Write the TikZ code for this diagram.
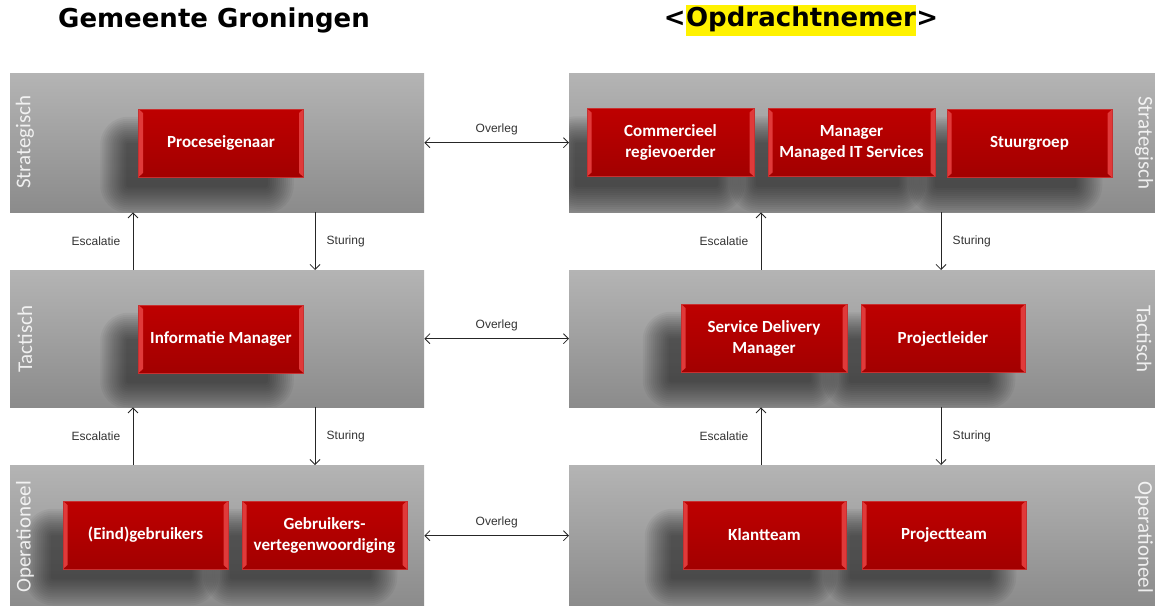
\documentclass[tikz,border=0pt]{standalone}
\usepackage{fontspec}
\setmainfont{Carlito}
\newfontfamily\arialf{Liberation Sans}
\newfontfamily\titlef{DejaVu Sans}
\usetikzlibrary{arrows.meta}
\pgfdeclarelayer{bg}
\pgfdeclarelayer{shad}
\pgfsetlayers{bg,shad,main}
\definecolor{ptop}{HTML}{B4B4B4}
\definecolor{pbot}{HTML}{8B8B8B}
\definecolor{btop}{HTML}{BE0000}
\definecolor{bbot}{HTML}{A20000}
\definecolor{bevel}{HTML}{E03A3A}
\definecolor{bedge}{HTML}{C83030}
\definecolor{lbl}{HTML}{333333}
\newcommand{\softshadow}[1]{%
  \foreach \e in {14,12,...,-12}{%
    \pgfmathsetmacro{\rr}{max(\e+14,1)}%
    \fill[black, opacity=0.042, rounded corners=\rr pt]
      ([shift={(-24pt-\e pt,-22pt+\e pt)}]#1.north west) rectangle
      ([shift={(-24pt+\e pt,-22pt-\e pt)}]#1.south east);
  }}
\begin{document}
\begin{tikzpicture}[x=1pt,y=-1pt,
  panel/.style={anchor=north west, inner sep=0pt, top color=ptop, bottom color=pbot, draw=none},
  redbox/.style={minimum width=165pt, minimum height=68pt, inner sep=2pt, top color=btop, bottom color=bbot,
    draw=bedge, line width=0.5pt, text=white, align=center,
    font=\bfseries\fontsize{17}{21}\selectfont,
    path picture={
      \fill[bevel] (path picture bounding box.north west) -- ++(4.5pt,-4pt) -- ([shift={(4.5pt,4pt)}]path picture bounding box.south west) -- (path picture bounding box.south west) -- cycle;
      \fill[bevel] (path picture bounding box.north east) -- ++(-4.5pt,-4pt) -- ([shift={(-4.5pt,4pt)}]path picture bounding box.south east) -- (path picture bounding box.south east) -- cycle;
    }},
  side/.style={text=white, text opacity=0.85, font=\fontsize{21}{24}\selectfont},
  lab/.style={text=lbl, font=\arialf\fontsize{12}{14}\selectfont},
  arr/.style={-{Straight Barb[length=5pt,width=10pt]}, line width=0.8pt, draw=black!85},
  dbl/.style={{Straight Barb[length=5pt,width=10pt]}-{Straight Barb[length=5pt,width=10pt]}, line width=0.8pt, draw=black!85},
  title/.style={font=\titlef\bfseries\fontsize{26}{30}\selectfont, text=black}
]
\useasboundingbox (0,0) rectangle (1155,605);
\begin{pgfonlayer}{bg}
\fill[white] (0,0) rectangle (1155,605);
% panels
\node[panel, minimum width=414pt, minimum height=139pt] (ls) at (10,73) {};
\node[panel, minimum width=414pt, minimum height=137pt] (lt) at (10,270) {};
\node[panel, minimum width=414pt, minimum height=141pt] (lo) at (10,465) {};
\node[panel, minimum width=586pt, minimum height=139pt] (rs) at (569,73) {};
\node[panel, minimum width=586pt, minimum height=137pt] (rt) at (569,270) {};
\node[panel, minimum width=586pt, minimum height=141pt] (ro) at (569,465) {};
\end{pgfonlayer}

% titles
\node[title] (t1) at (214,20) {Gemeente Groningen};
\node[title] (t2) at (801,20) {<{\setlength\fboxsep{0.5pt}\colorbox{yellow}{\strut Opdrachtnemer}}>};

% side labels
\node[side, rotate=90] (sl1) at (25,142) {Strategisch};
\node[side, rotate=90] (sl2) at (25,339) {Tactisch};
\node[side, rotate=90] (sl3) at (25,537) {Operationeel};
\node[side, rotate=-90] (sr1) at (1144,143) {Strategisch};
\node[side, rotate=-90] (sr2) at (1144,339) {Tactisch};
\node[side, rotate=-90] (sr3) at (1144,537) {Operationeel};

% boxes
\node[redbox] (pe) at (221,143) {Proceseigenaar};
\node[redbox] (im) at (221,339) {Informatie Manager};
\node[redbox] (eg) at (145.5,535) {(Eind)gebruikers};
\node[redbox] (gv) at (324.5,535) {Gebruikers-\\vertegenwoordiging};
\node[redbox, minimum width=167pt] (cr) at (670.5,142.5) {Commercieel\\regievoerder};
\node[redbox, minimum width=167pt] (mm) at (851.5,142.5) {Manager\\Managed IT Services};
\node[redbox] (sg) at (1029.5,143.5) {Stuurgroep};
\node[redbox, minimum width=166pt] (sdm) at (764,338) {Service Delivery\\Manager};
\node[redbox, minimum width=164pt] (pl) at (943,338.5) {Projectleider};
\node[redbox, minimum width=163pt] (kt) at (764.5,535) {Klantteam};
\node[redbox, minimum width=164pt] (pt) at (944,535) {Projectteam};

\begin{pgfonlayer}{shad}
\begin{scope}
\clip (ls.north west) rectangle (ls.south east) (lt.north west) rectangle (lt.south east)
      (lo.north west) rectangle (lo.south east) (rs.north west) rectangle (rs.south east)
      (rt.north west) rectangle (rt.south east) (ro.north west) rectangle (ro.south east);
\softshadow{pe}\softshadow{im}\softshadow{eg}\softshadow{gv}
\softshadow{cr}\softshadow{mm}\softshadow{sg}\softshadow{sdm}\softshadow{pl}
\softshadow{kt}\softshadow{pt}
\end{scope}
\end{pgfonlayer}

% overleg
\draw[dbl] (ls.east) -- (rs.west) node[lab, midway, above=4pt] (o1) {Overleg};
\draw[dbl] (lt.east) -- (rt.west) node[lab, midway, above=4pt] (o2) {Overleg};
\draw[dbl] (lo.east) -- (ro.west) node[lab, midway, above=4pt] (o3) {Overleg};

% vertical arrows left
\draw[arr] ([xshift=123pt]lt.north west) -- ([xshift=123pt]ls.south west) node[lab, midway, left=9pt] (e1) {Escalatie};
\draw[arr] ([xshift=305pt]ls.south west) -- ([xshift=305pt]lt.north west) node[lab, midway, right=8pt] (s1) {Sturing};
\draw[arr] ([xshift=123pt]lo.north west) -- ([xshift=123pt]lt.south west) node[lab, midway, left=9pt] (e2) {Escalatie};
\draw[arr] ([xshift=305pt]lt.south west) -- ([xshift=305pt]lo.north west) node[lab, midway, right=8pt] (s2) {Sturing};

% vertical arrows right
\draw[arr] ([xshift=192pt]rt.north west) -- ([xshift=192pt]rs.south west) node[lab, midway, left=9pt] (e3) {Escalatie};
\draw[arr] ([xshift=372pt]rs.south west) -- ([xshift=372pt]rt.north west) node[lab, midway, right=8pt] (s3) {Sturing};
\draw[arr] ([xshift=192pt]ro.north west) -- ([xshift=192pt]rt.south west) node[lab, midway, left=9pt] (e4) {Escalatie};
\draw[arr] ([xshift=372pt]rt.south west) -- ([xshift=372pt]ro.north west) node[lab, midway, right=8pt] (s4) {Sturing};
\end{tikzpicture}
\end{document}
